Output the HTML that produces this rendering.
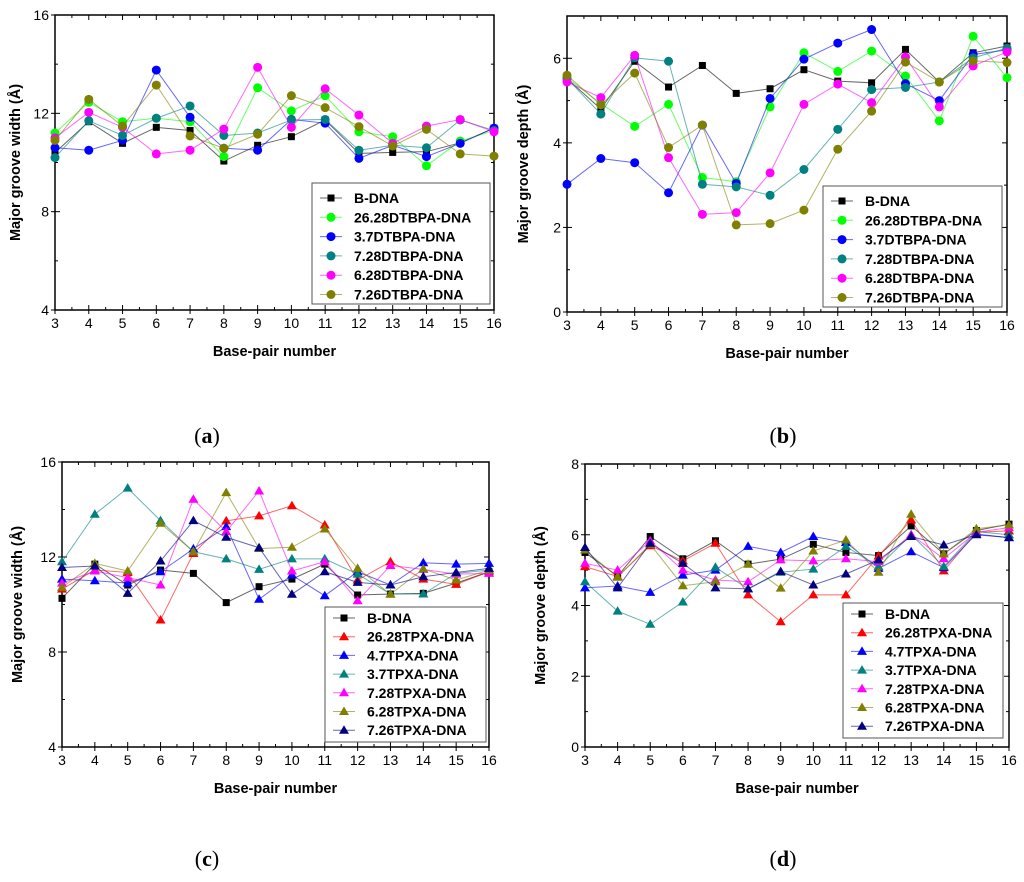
<!DOCTYPE html>
<html><head><meta charset="utf-8"><style>
html,body{margin:0;padding:0;background:#fff;}
svg{display:block;font-family:"Liberation Sans",Arial,sans-serif;}
</style></head><body>
<svg id="fig" width="1024" height="882" viewBox="0 0 1024 882" xmlns="http://www.w3.org/2000/svg"></svg>
<script>
const bp = [3,4,5,6,7,8,9,10,11,12,13,14,15,16];
// Panel a: major groove width (DTBPA)
const aNames = ["B-DNA","26.28DTBPA-DNA","3.7DTBPA-DNA","7.28DTBPA-DNA","6.28DTBPA-DNA","7.26DTBPA-DNA"];
const aBDNA = [10.4,11.66,10.78,11.43,11.3,10.06,10.7,11.05,11.73,10.37,10.41,10.44,10.8,11.4];
const a2628 = [11.2,12.45,11.66,11.8,11.66,10.24,13.04,12.1,12.72,11.25,11.05,9.87,10.87,11.3];
const a37 = [10.6,10.5,10.9,13.76,11.84,10.58,10.5,11.75,11.6,10.17,10.7,10.24,10.78,11.4];
const a728 = [10.2,11.7,11.1,11.8,12.3,11.1,11.2,11.73,11.75,10.5,10.7,10.6,11.73,11.3];
const a628 = [11.0,12.04,11.43,10.35,10.5,11.36,13.87,11.43,13.0,11.93,10.78,11.48,11.75,11.25];
const a726 = [10.9,12.57,11.48,13.15,11.08,10.58,11.15,12.72,12.23,11.46,10.67,11.35,10.35,10.26];
// Panel b: major groove depth (DTBPA)
const bBDNA = [5.52,4.8,5.93,5.32,5.83,5.17,5.28,5.73,5.46,5.42,6.21,5.44,6.13,6.29];
const b2628 = [5.54,4.93,4.39,4.91,3.18,3.08,4.85,6.13,5.69,6.17,5.58,4.52,6.52,5.54];
const b37 = [3.02,3.63,3.53,2.82,4.42,3.04,5.05,5.98,6.36,6.68,5.4,5.0,6.09,6.2];
const b728 = [5.52,4.68,6.01,5.93,3.02,2.96,2.76,3.37,4.32,5.26,5.31,5.44,6.01,6.24];
const b628 = [5.44,5.07,6.07,3.65,2.31,2.35,3.29,4.91,5.39,4.95,6.03,4.85,5.82,6.15];
const b726 = [5.6,4.9,5.65,3.89,4.42,2.06,2.09,2.41,3.85,4.75,5.91,5.44,5.94,5.9];
// Panel c: major groove width (TPXA)
const cNames = ["B-DNA","26.28TPXA-DNA","4.7TPXA-DNA","3.7TPXA-DNA","7.28TPXA-DNA","6.28TPXA-DNA","7.26TPXA-DNA"];
const cBDNA = [10.26,11.7,10.82,11.45,11.31,10.08,10.75,11.07,11.7,10.4,10.44,10.47,10.9,11.38];
const c2628 = [10.65,11.45,11.35,9.35,12.15,13.52,13.73,14.16,13.35,11.03,11.8,11.07,10.85,11.38];
const c47 = [11.07,11.0,10.9,11.38,12.34,13.28,10.22,11.24,10.37,11.38,10.82,11.76,11.7,11.73];
const c37 = [11.8,13.8,14.9,13.53,12.22,11.92,11.48,11.92,11.92,11.28,10.44,10.44,11.31,11.45];
const c728 = [10.9,11.41,11.13,10.82,14.43,13.07,14.78,11.41,11.8,10.16,11.64,11.48,11.28,11.31];
const c628 = [10.72,11.73,11.41,13.42,12.22,14.71,12.36,12.41,13.18,11.52,10.43,11.5,11.03,11.45];
const c726 = [11.56,11.62,10.47,11.83,13.53,12.83,12.39,10.43,11.38,10.93,10.82,11.17,11.35,11.52];
// Panel d: major groove depth (TPXA)
const dBDNA = [5.5,4.83,5.95,5.32,5.83,5.17,5.31,5.73,5.5,5.41,6.25,5.46,6.12,6.3];
const d2628 = [5.1,4.82,5.69,5.26,5.76,4.3,3.54,4.3,4.3,5.4,6.42,4.98,6.07,6.11];
const d47 = [4.5,4.55,4.37,4.86,5.0,5.67,5.5,5.95,5.78,5.05,5.52,5.07,6.02,5.92];
const d37 = [4.67,3.84,3.47,4.1,5.08,4.47,4.94,5.03,5.67,5.1,6.0,5.1,6.09,6.0];
const d728 = [5.19,5.0,5.83,5.0,4.72,4.67,5.29,5.26,5.32,5.24,6.0,5.32,6.07,6.2];
const d628 = [5.57,4.8,5.73,4.56,4.67,5.17,4.49,5.54,5.85,4.94,6.58,5.46,6.17,6.28];
const d726 = [5.64,4.5,5.76,5.19,4.5,4.47,4.96,4.58,4.89,5.29,5.95,5.71,6.0,5.92];
const widthTicks = [4,8,12,16];
const depthTicksB = [0,2,4,6];
const depthTicksD = [0,2,4,6,8];

const NS="http://www.w3.org/2000/svg";
const svg=document.getElementById('fig');
function mk(tag,attrs,parent){const e=document.createElementNS(NS,tag);for(const k in attrs)e.setAttribute(k,attrs[k]);(parent||svg).appendChild(e);return e;}

function marker(g,shape,x,y,col){
  let m;
  if(shape==='sq') m=mk('rect',{x:x-3.5,y:y-3.5,width:7,height:7,fill:col},g);
  else if(shape==='ci') m=mk('circle',{cx:x,cy:y,r:4.5,fill:col},g);
  else m=mk('polygon',{points:`${x},${y-5} ${x+5},${y+3.5} ${x-5},${y+3.5}`,fill:col},g);
  
  
  return m;
}

function panel(p){
  const g=mk('g',{});
  
  
  const X=v=>p.x0+(v-3)*(p.x1-p.x0)/13;
  const Y=v=>p.y1-(v-p.ymin)*(p.y1-p.y0)/(p.ymax-p.ymin);
  const frame=mk('rect',{x:p.x0,y:p.y0,width:p.x1-p.x0,height:p.y1-p.y0,fill:'none',stroke:'#000','stroke-width':1.5},g);
  
  for(let v=3;v<=16;v+=0.5){
    const major=(v%1===0);const len=major?5:3;const x=X(v);
    mk('line',{x1:x,y1:p.y1,x2:x,y2:p.y1-len,stroke:'#000','stroke-width':1},g);
    if(major) mk('line',{x1:x,y1:p.y1,x2:x,y2:p.y1+4,stroke:'#000','stroke-width':1},g);
    mk('line',{x1:x,y1:p.y0,x2:x,y2:p.y0+len,stroke:'#000','stroke-width':1},g);
    if(major){const t=mk('text',{x:x,y:p.y1+18,'text-anchor':'middle','font-size':14},g);t.textContent=v;
      }
  }
  const tk=p.ticks;const step=tk[1]-tk[0];
  for(let v=p.ymin;v<=p.ymax+1e-9;v+=step/2){
    const major=tk.some(t=>Math.abs(t-v)<1e-9);const len=major?5:3;const y=Y(v);
    mk('line',{x1:p.x0,y1:y,x2:p.x0+len,y2:y,stroke:'#000','stroke-width':1},g);
    if(major) mk('line',{x1:p.x0,y1:y,x2:p.x0-4,y2:y,stroke:'#000','stroke-width':1},g);
    mk('line',{x1:p.x1,y1:y,x2:p.x1-len,y2:y,stroke:'#000','stroke-width':1},g);
    if(major){const t=mk('text',{x:p.x0-6,y:y+5,'text-anchor':'end','font-size':14},g);t.textContent=v;
      }
  }
  const xt=mk('text',{x:(p.x0+p.x1)/2,y:p.y1+46,'text-anchor':'middle','font-size':14.5,'font-weight':'bold'},g);
  xt.textContent='Base-pair number';
  const cy=(p.y0+p.y1)/2;const tx=p.ytx;
  const yt=mk('text',{x:tx,y:cy,'text-anchor':'middle','font-size':14.5,'font-weight':'bold',transform:`rotate(-90 ${tx} ${cy})`},g);
  yt.textContent=p.ytitle;
  p.series.forEach(s=>{
    const sg=mk('g',{},g);
    
    
    mk('polyline',{points:bp.map((b,i)=>X(b)+','+Y(s.vals[i])).join(' '),fill:'none',stroke:s.col,'stroke-width':1,'stroke-opacity':0.6},sg);
    bp.forEach((b,i)=>marker(sg,s.shape,X(b),Y(s.vals[i]),s.col));
  });
  const L=p.leg;
  const lg=mk('g',{},g);
  mk('rect',{x:L.x,y:L.y,width:L.w,height:L.h,fill:'#fff',stroke:'#555','stroke-width':1},lg);
  p.series.forEach((s,i)=>{
    const yy=L.y+L.first+i*L.dy;
    const eg=mk('g',{},lg);
    mk('line',{x1:L.x+8,y1:yy,x2:L.x+30,y2:yy,stroke:s.col,'stroke-width':1,'stroke-opacity':0.6},eg);
    marker(eg,s.shape,L.x+19,yy,s.col);
    const t=mk('text',{x:L.x+42,y:yy+5,'font-size':14,'font-weight':'bold'},eg);t.textContent=s.name;
  });
  const lab=mk('text',{x:p.lab[0],y:p.lab[1],'text-anchor':'middle','font-size':22,'font-family':'"Liberation Serif",serif'},g);
  lab.innerHTML='(<tspan font-weight="bold">'+p.labc+'</tspan>)';
  
}
const cols={blk:'#000',grn:'#00ff00',blu:'#0000ff',tel:'#008080',mag:'#ff00ff',olv:'#808000',red:'#ff0000',nav:'#000080'};
function S(names,vals,shapes,colsArr){return names.map((n,i)=>({name:n,vals:vals[i],shape:shapes[i],col:colsArr[i]}));}
const dtCols=[cols.blk,cols.grn,cols.blu,cols.tel,cols.mag,cols.olv];
const dtShp=['sq','ci','ci','ci','ci','ci'];
const tpCols=[cols.blk,cols.red,cols.blu,cols.tel,cols.mag,cols.olv,cols.nav];
const tpShp=['sq','tr','tr','tr','tr','tr','tr'];
panel({id:'a',x0:55,x1:494,y0:15,y1:310,ymin:4,ymax:16,ticks:widthTicks,ytitle:'Major groove width (Å)',ytx:20,
  series:S(aNames,[aBDNA,a2628,a37,a728,a628,a726],dtShp,dtCols),
  leg:{x:312,y:183,w:178,h:121,first:15,dy:19.3},lab:[207,443],labc:'a'});
panel({id:'b',x0:567,x1:1007,y0:16,y1:312,ymin:0,ymax:7,ticks:depthTicksB,ytitle:'Major groove depth (Å)',ytx:528,
  series:S(aNames,[bBDNA,b2628,b37,b728,b628,b726],dtShp,dtCols),
  leg:{x:823,y:186,w:179,h:121,first:15,dy:19.3},lab:[783,443],labc:'b'});
panel({id:'c',x0:62,x1:489,y0:462,y1:747,ymin:4,ymax:16,ticks:widthTicks,ytitle:'Major groove width (Å)',ytx:22,
  series:S(cNames,[cBDNA,c2628,c47,c37,c728,c628,c726],tpShp,tpCols),
  leg:{x:325,y:607,w:161,h:135,first:11,dy:18.7},lab:[207,866],labc:'c'});
panel({id:'d',x0:585,x1:1009,y0:464,y1:747,ymin:0,ymax:8,ticks:depthTicksD,ytitle:'Major groove depth (Å)',ytx:545,
  series:S(cNames,[dBDNA,d2628,d47,d37,d728,d628,d726],tpShp,tpCols),
  leg:{x:843,y:603,w:160,h:135,first:11,dy:18.7},lab:[783,866],labc:'d'});
</script>
</body></html>
